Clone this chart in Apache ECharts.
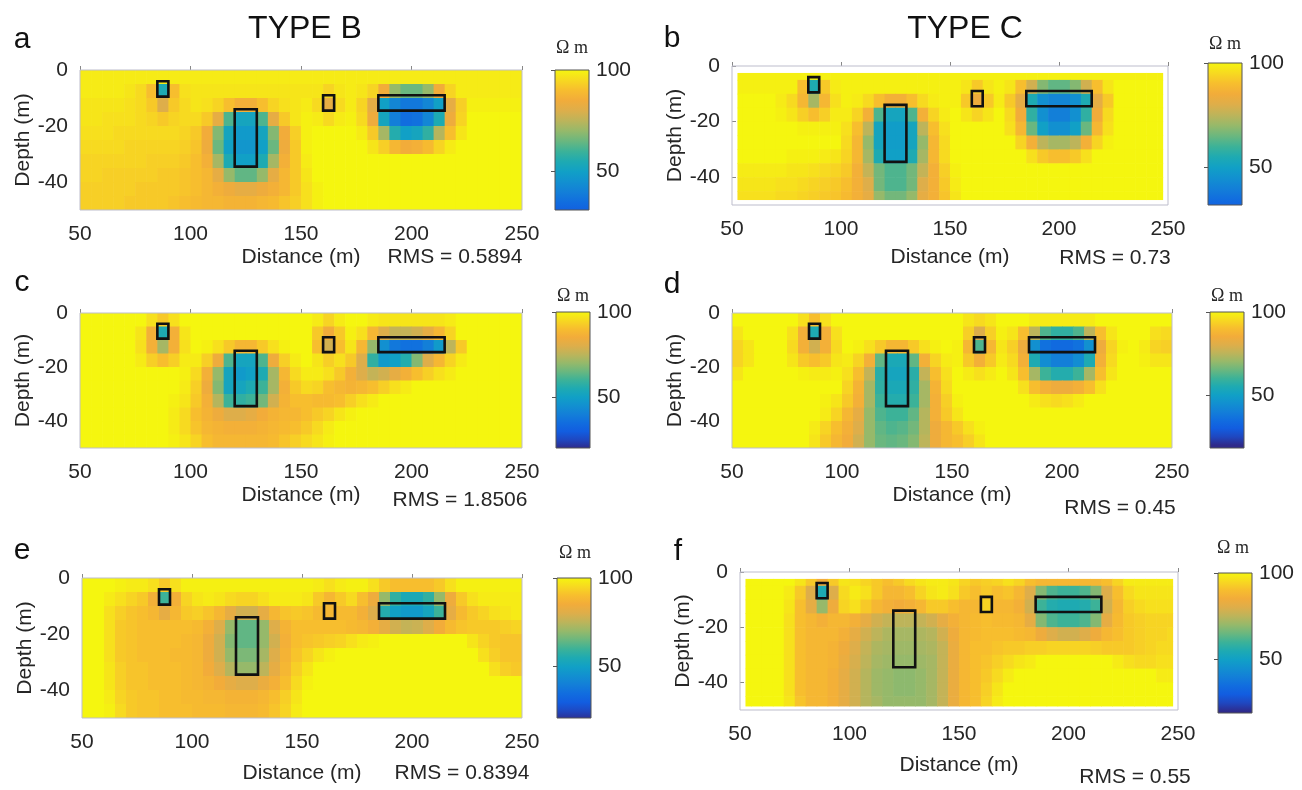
<!DOCTYPE html>
<html>
<head>
<meta charset="utf-8">
<title>Type B / Type C resistivity sections</title>
<script src="https://cdn.jsdelivr.net/npm/echarts@6.0.0/dist/echarts.min.js"></script>
<style>
  html, body { margin: 0; padding: 0; background: #fff; }
  #main { width: 1302px; height: 790px; }
</style>
</head>
<body>
<div id="main"></div>
<script>
// cell centres of the inversion grid (m)
const xCentres = [52.5, 57.5, 62.5, 67.5, 72.5, 77.5, 82.5, 87.5, 92.5, 97.5,
  102.5, 107.5, 112.5, 117.5, 122.5, 127.5, 132.5, 137.5, 142.5, 147.5,
  152.5, 157.5, 162.5, 167.5, 172.5, 177.5, 182.5, 187.5, 192.5, 197.5,
  202.5, 207.5, 212.5, 217.5, 222.5, 227.5, 232.5, 237.5, 242.5, 247.5];
const depthCentres = [-2.5, -7.5, -12.5, -17.5, -22.5, -27.5, -32.5, -37.5, -42.5, -47.5];
const depthTicks = [0, -20, -40];
const colorbarTicks = [50, 100];

// true model blocks: [x0, x1, topDepth, bottomDepth]
const blocks = [[85, 90, -4, -9.5], [120, 130, -14, -34.5], [160, 165, -9, -14.5], [185, 215, -9, -14.5]];

const panelLetters = ['a', 'b', 'c', 'd', 'e', 'f'];
const rmsValues = ['0.5894', '0.73', '1.8506', '0.45', '0.8394', '0.55'];
const colorbarMin = [31, 32, 20, 18, 21, 19];

// resistivity (ohm m), one row per depth, one column per x centre
const resA = [
  [98,98,98,98,98,98,98,98,98,98, 98,98,98,98,98,98,98,98,98,98, 98,98,98,98,98,98,98,98,98,98, 98,98,98,98,98,98,98,98,98,98],
  [98,98,98,98,97,95,90,55,90,96, 97,97,97,97,97,97,97,97,97,97, 97,97,94,97,98,97,94,85,70,65, 65,70,85,94,98,98,98,98,98,98],
  [97,97,97,97,96,95,92,80,92,95, 97,96,94,90,86,86,90,94,96,97, 98,95,82,95,98,94,82,50,42,38, 38,42,50,82,93,99,99,99,99,99],
  [97,97,96,96,96,95,94,92,94,95, 95,92,82,62,52,52,62,82,92,97, 99,98,95,98,99,95,84,52,40,35, 36,42,55,84,94,100,100,100,100,100],
  [96,96,96,95,95,95,95,95,95,94, 92,85,68,52,48,48,52,68,85,93, 99,100,100,100,100,98,92,72,56,50, 52,58,74,90,97,100,100,100,100,100],
  [95,95,95,95,94,94,94,94,94,93, 91,84,65,50,47,47,50,65,84,92, 99,100,100,100,100,100,97,93,88,85, 86,89,94,98,100,100,100,100,100,100],
  [94,94,94,94,94,94,93,93,93,92, 90,86,72,55,50,50,55,72,86,92, 98,100,100,100,100,100,100,100,100,100, 100,100,100,100,100,100,100,100,100,100],
  [94,94,93,93,93,93,93,92,92,91, 90,88,82,70,64,64,70,82,88,92, 97,100,100,100,100,100,100,100,100,100, 100,100,100,100,100,100,100,100,100,100],
  [93,93,93,93,93,92,92,92,92,91, 90,88,86,84,82,82,84,86,88,92, 96,99,100,100,100,100,100,100,100,100, 100,100,100,100,100,100,100,100,100,100],
  [93,93,93,93,92,92,92,92,91,90, 89,88,88,87,87,87,88,89,91,93, 96,99,100,100,100,100,100,100,100,100, 100,100,100,100,100,100,100,100,100,100]
];
const resB = [
  [99,99,99,99,99,99,99,99,99,99, 99,99,99,99,99,99,99,99,99,99, 99,99,99,99,99,99,99,99,99,99, 99,99,99,99,99,99,99,99,99,99],
  [99,99,99,99,99,99,90,55,92,98, 99,99,99,99,99,99,99,99,99,99, 99,97,92,97,99,97,90,78,68,64, 64,68,78,90,97,100,100,100,100,100],
  [100,100,100,100,98,95,88,72,88,96, 99,98,95,90,86,86,90,95,98,99, 99,92,84,92,98,92,82,55,45,42, 42,45,55,82,92,100,100,100,100,100],
  [100,100,100,100,99,97,93,90,93,98, 98,94,86,62,52,52,62,86,94,98, 100,97,94,97,100,95,85,58,45,40, 40,45,58,85,95,100,100,100,100,100],
  [100,100,100,100,100,100,99,99,99,99, 96,90,75,52,49,49,52,75,90,96, 100,100,100,100,100,96,88,65,50,45, 45,50,65,88,96,100,100,100,100,100],
  [100,100,100,100,100,100,100,100,100,100, 95,88,70,52,49,49,52,70,88,95, 100,100,100,100,100,100,94,86,75,72, 72,75,86,94,99,100,100,100,100,100],
  [100,100,100,100,100,99,99,99,98,97, 94,88,72,55,50,50,55,72,88,95, 100,100,100,100,100,100,100,96,92,90, 90,92,96,100,100,100,100,100,100,100],
  [98,98,98,98,98,97,97,96,95,94, 92,86,76,66,62,62,66,76,86,93, 99,100,100,100,100,100,100,100,100,100, 100,100,100,100,100,100,100,100,100,100],
  [97,97,97,97,96,96,95,94,93,92, 90,86,80,66,62,62,66,80,86,92, 98,100,100,100,100,100,100,100,100,100, 100,100,100,100,100,100,100,100,100,100],
  [96,96,96,96,95,95,94,93,92,91, 89,86,82,70,66,66,70,82,86,91, 97,100,100,100,100,100,100,100,100,100, 100,100,100,100,100,100,100,100,100,100]
];
const resC = [
  [100,100,100,100,100,100,96,92,96,100, 100,100,100,100,100,100,100,100,100,100, 100,98,94,98,100,100,98,97,97,97, 97,97,97,98,100,100,100,100,100,100],
  [100,100,100,100,100,97,86,55,86,97, 100,100,100,100,100,100,100,100,100,100, 100,92,85,92,99,96,88,80,76,76, 78,82,88,94,100,100,100,100,100,100],
  [100,100,100,100,100,96,86,72,86,96, 100,99,96,92,88,88,92,96,99,100, 100,90,78,90,97,88,70,45,38,36, 36,40,48,75,92,100,100,100,100,100],
  [100,100,100,100,100,98,93,90,93,98, 98,93,84,62,52,52,62,84,93,98, 100,97,93,96,92,80,58,48,50,56, 68,80,88,94,98,100,100,100,100,100],
  [100,100,100,100,100,100,100,100,100,99, 95,86,70,52,48,50,55,72,88,95, 98,98,96,92,86,80,76,78,82,86, 90,93,96,98,100,100,100,100,100,100],
  [100,100,100,100,100,100,100,100,100,98, 93,84,68,52,52,55,60,72,86,92, 95,94,90,88,87,88,90,93,96,98, 100,100,100,100,100,100,100,100,100,100],
  [100,100,100,100,100,100,100,100,99,97, 92,86,74,60,58,60,66,78,87,90, 90,89,89,90,93,96,98,100,100,100, 100,100,100,100,100,100,100,100,100,100],
  [100,100,100,100,100,100,100,100,98,95, 90,87,84,80,80,82,85,87,88,88, 90,92,94,97,99,100,100,100,100,100, 100,100,100,100,100,100,100,100,100,100],
  [100,100,100,100,100,100,100,100,98,95, 91,88,87,86,86,86,87,88,89,90, 92,95,98,100,100,100,100,100,100,100, 100,100,100,100,100,100,100,100,100,100],
  [100,100,100,100,100,100,100,100,99,97, 94,90,88,88,88,88,88,89,91,93, 95,97,99,100,100,100,100,100,100,100, 100,100,100,100,100,100,100,100,100,100]
];
const resD = [
  [100,100,100,100,100,100,96,90,96,100, 100,100,100,100,100,100,100,100,100,100, 100,97,95,97,100,100,100,98,98,98, 98,98,98,100,100,100,100,100,100,100],
  [97,100,100,100,100,96,86,55,86,96, 100,100,100,100,100,100,100,100,100,100, 100,93,80,93,99,97,90,75,62,58, 58,62,75,90,97,100,100,100,96,95],
  [94,97,100,100,100,95,86,78,86,95, 100,99,96,92,88,88,92,96,99,100, 99,88,62,88,97,93,84,45,36,34, 34,36,45,84,94,99,100,98,94,93],
  [94,97,100,100,100,97,92,90,92,97, 98,94,86,64,54,54,64,86,94,98, 99,92,86,92,98,95,86,55,44,40, 40,44,55,86,95,100,100,99,97,97],
  [97,100,100,100,100,100,99,98,98,99, 96,90,76,57,52,52,57,76,90,96, 100,98,96,98,100,97,90,72,60,56, 56,60,72,90,97,100,100,100,100,100],
  [100,100,100,100,100,100,100,100,100,100, 94,87,72,58,54,54,58,72,87,95, 100,100,100,100,100,100,96,90,86,84, 84,86,90,96,100,100,100,100,100,100],
  [100,100,100,100,100,100,100,100,99,97, 92,86,72,60,56,56,60,72,86,93, 99,100,100,100,100,100,100,98,96,95, 96,98,100,100,100,100,100,100,100,100],
  [100,100,100,100,100,100,100,100,98,94, 88,82,70,62,60,60,64,74,86,92, 97,100,100,100,100,100,100,100,100,100, 100,100,100,100,100,100,100,100,100,100],
  [100,100,100,100,100,100,100,98,94,90, 86,80,70,64,62,63,66,74,84,88, 92,96,99,100,100,100,100,100,100,100, 100,100,100,100,100,100,100,100,100,100],
  [100,100,100,100,100,100,100,97,92,88, 85,78,70,65,64,65,68,75,84,88, 90,93,97,100,100,100,100,100,100,100, 100,100,100,100,100,100,100,100,100,100]
];
const resE = [
  [100,100,100,99,98,98,96,92,96,99, 99,99,99,99,99,99,99,99,99,99, 99,98,96,98,99,99,96,92,90,90, 90,90,92,96,99,99,99,99,99,99],
  [100,100,98,96,94,92,86,60,86,94, 97,98,97,95,94,94,96,98,98,98, 97,92,88,92,95,90,84,70,58,54, 54,58,70,84,92,96,98,98,98,98],
  [100,100,96,93,91,90,88,82,88,92, 93,91,88,82,78,78,82,88,91,92, 91,89,88,89,89,86,80,56,50,48, 48,52,60,82,89,92,94,96,97,98],
  [100,100,96,92,91,90,90,90,90,90, 89,86,80,70,64,64,70,80,87,90, 90,90,90,90,89,88,86,82,78,76, 77,80,85,89,91,92,92,92,93,94],
  [100,100,96,92,91,90,90,90,90,89, 88,84,78,68,64,64,70,78,86,90, 91,92,93,94,96,98,99,100,100,100, 100,100,100,100,100,97,94,92,91,91],
  [100,100,96,92,91,90,90,90,89,89, 88,84,78,70,67,67,72,80,87,91, 94,97,99,100,100,100,100,100,100,100, 100,100,100,100,100,100,96,93,91,91],
  [100,100,97,93,91,91,90,90,90,89, 88,85,80,74,70,70,75,82,88,93, 97,100,100,100,100,100,100,100,100,100, 100,100,100,100,100,100,100,96,93,92],
  [100,100,97,93,91,91,90,90,90,89, 88,87,85,82,80,80,83,86,90,95, 99,100,100,100,100,100,100,100,100,100, 100,100,100,100,100,100,100,100,100,100],
  [100,100,98,94,92,91,91,90,90,89, 89,88,88,87,87,87,88,90,93,97, 100,100,100,100,100,100,100,100,100,100, 100,100,100,100,100,100,100,100,100,100],
  [100,100,99,95,92,91,91,90,90,90, 89,89,89,88,88,88,89,91,94,98, 100,100,100,100,100,100,100,100,100,100, 100,100,100,100,100,100,100,100,100,100]
];
const resF = [
  [100,100,100,100,100,97,92,85,92,97, 96,94,92,90,92,95,97,98,98,97, 94,92,93,94,96,94,90,88,88,88, 88,88,88,90,94,98,98,98,98,98],
  [100,100,100,100,98,92,80,55,80,95, 98,96,92,88,88,90,94,97,98,96, 92,90,92,90,91,88,80,68,62,60, 60,62,68,80,90,95,97,97,97,97],
  [100,100,100,100,97,90,82,70,84,94, 96,92,88,86,85,86,88,92,92,90, 88,88,94,88,88,86,78,60,56,55, 55,56,60,78,88,93,95,96,96,96],
  [100,100,100,100,96,90,88,86,88,88, 86,82,78,76,75,75,76,78,82,86, 88,89,90,89,89,88,82,68,62,60, 60,62,68,82,89,92,93,94,94,94],
  [100,100,100,100,96,90,88,88,88,86, 82,78,75,73,72,72,73,74,78,84, 88,89,90,90,90,89,88,84,80,78, 78,80,84,88,90,92,93,94,94,95],
  [100,100,100,100,96,90,88,88,87,84, 80,76,73,72,71,71,72,73,76,83, 88,90,90,91,92,92,93,93,94,94, 94,94,93,92,92,92,93,94,95,95],
  [100,100,100,100,96,90,88,88,87,83, 79,75,72,71,70,70,71,72,76,83, 88,90,91,93,95,97,98,100,100,100, 100,100,100,100,98,96,95,95,96,96],
  [100,100,100,100,96,90,88,88,86,82, 78,74,71,70,69,69,70,72,76,83, 88,90,92,95,98,100,100,100,100,100, 100,100,100,100,100,100,100,100,98,98],
  [100,100,100,100,96,90,88,88,86,82, 78,74,71,70,69,69,70,72,76,83, 88,90,93,97,100,100,100,100,100,100, 100,100,100,100,100,100,100,100,100,100],
  [100,100,100,100,97,91,88,88,86,82, 78,74,72,70,70,70,70,72,76,83, 88,90,94,98,100,100,100,100,100,100, 100,100,100,100,100,100,100,100,100,100]
];
const sections = [resA, resB, resC, resD, resE, resF];

// parula-like colour scale, one colour per 5 ohm m from 20 to 100
const paletteValues = [20, 25, 30, 35, 40, 45, 50, 55, 60, 65, 70, 75, 80, 85, 90, 95, 100];
const palette = ['#2f2a8a', '#1f47c0', '#125de0', '#116ddf', '#137fd8', '#1290d0', '#11a0c6', '#1eaab2',
  '#3cb298', '#6ab77f', '#96b96a', '#bdb45a', '#deae4a', '#f2ac3a', '#f7be2e', '#f7da20', '#f5f60f'];

// page layout: plot box [left, top, width, height], colour bar box, x-name gap, text anchors
const layout = [
  { plot: [80, 70, 442, 140], bar: [555, 70, 34, 140], gap: 37, rms: [455, 257], letter: [22, 40], ohm: [572, 48] },
  { plot: [732, 66, 436, 139], bar: [1208, 63, 34, 142], gap: 42, rms: [1115, 258], letter: [672, 39], ohm: [1225, 44] },
  { plot: [80, 313, 442, 135], bar: [556, 312, 34, 136], gap: 37, rms: [460, 500], letter: [22, 283], ohm: [573, 296] },
  { plot: [732, 313, 440, 135], bar: [1210, 312, 34, 136], gap: 37, rms: [1120, 508], letter: [672, 285], ohm: [1227, 296] },
  { plot: [82, 578, 440, 140], bar: [557, 578, 34, 140], gap: 45, rms: [462, 773], letter: [22, 551], ohm: [575, 553] },
  { plot: [740, 572, 438, 138], bar: [1218, 573, 34, 140], gap: 45, rms: [1135, 777], letter: [678, 552], ohm: [1233, 548] }
];
// extent of the imaged area in each panel [xmin, xmax, top, bottom]
const extents = [[50, 250, 0, -50], [52.5, 247.5, -2.5, -48], [50, 250, 0, -50],
  [50, 250, 0, -50], [50, 250, 0, -50], [52.5, 247.5, -2.5, -48.5]];

const SANS = '"Liberation Sans", Arial, Helvetica, sans-serif';
const TXT = '#262626';

const chart = echarts.init(document.getElementById('main'));

const plotGrids = [], barGrids = [];
const plotX = [], plotY = [], barX = [], barY = [];
const heatSeries = [], blockSeries = [], barSeries = [], graphics = [];

function txt(x, y, text, font, fill) {
  return { type: 'text', x: x, y: y,
    style: { text: text, font: font, fill: fill, align: 'center', verticalAlign: 'middle',
      textAlign: 'center', textVerticalAlign: 'middle' } };
}

sections.forEach((res, k) => {
  const L = layout[k];
  const ext = extents[k];

  plotGrids.push({ left: L.plot[0], top: L.plot[1], width: L.plot[2], height: L.plot[3],
    show: true, borderColor: '#bdbdcc', borderWidth: 1, z: 5 });
  plotX.push({
    type: 'value', gridIndex: k, min: 50, max: 250, interval: 50,
    name: 'Distance (m)', nameLocation: 'middle', nameGap: L.gap,
    nameTextStyle: { fontSize: 21, color: TXT, fontFamily: SANS },
    axisLine: { show: false },
    axisTick: { show: true, inside: true, length: 4, lineStyle: { color: '#888' } },
    axisLabel: { fontSize: 21, color: TXT, fontFamily: SANS, margin: 14 },
    splitLine: { show: false }
  });
  plotY.push({
    type: 'value', gridIndex: k, min: -50, max: 0,
    name: 'Depth (m)', nameLocation: 'middle', nameGap: 44,
    nameTextStyle: { fontSize: 21, color: TXT, fontFamily: SANS },
    axisLine: { show: false },
    axisTick: { show: true, inside: true, length: 4, customValues: depthTicks, lineStyle: { color: '#888' } },
    axisLabel: { fontSize: 21, color: TXT, fontFamily: SANS, margin: 12, customValues: depthTicks },
    splitLine: { show: false }
  });

  const cells = [];
  depthCentres.forEach((d, r) => {
    xCentres.forEach((x, c) => cells.push([x, d, res[r][c]]));
  });
  heatSeries.push({
    type: 'custom', xAxisIndex: k, yAxisIndex: k, silent: true, clip: true,
    dimensions: ['x', 'depth', 'rho'], encode: { x: 0, y: 1 },
    data: cells,
    renderItem: (params, api) => {
      const x = api.value(0), y = api.value(1);
      const p0 = api.coord([Math.max(x - 2.5, ext[0]), Math.min(y + 2.5, ext[2])]);
      const p1 = api.coord([Math.min(x + 2.5, ext[1]), Math.max(y - 2.5, ext[3])]);
      return { type: 'rect',
        shape: { x: p0[0], y: p0[1], width: p1[0] - p0[0] + 0.6, height: p1[1] - p0[1] + 0.6 },
        style: { fill: api.visual('color') } };
    }
  });

  blockSeries.push({
    type: 'custom', xAxisIndex: k, yAxisIndex: k, silent: true, z: 4,
    data: blocks, encode: { x: [0, 1], y: [2, 3] },
    renderItem: (params, api) => {
      const p0 = api.coord([api.value(0), api.value(2)]);
      const p1 = api.coord([api.value(1), api.value(3)]);
      return { type: 'rect',
        shape: { x: p0[0], y: p0[1], width: p1[0] - p0[0], height: p1[1] - p0[1] },
        style: { fill: 'none', stroke: '#111', lineWidth: 2.6 } };
    }
  });

  // colour bar
  const lo = colorbarMin[k];
  barGrids.push({ left: L.bar[0], top: L.bar[1], width: L.bar[2], height: L.bar[3] });
  barX.push({ type: 'value', gridIndex: 6 + k, min: 0, max: 1, show: false });
  barY.push({
    type: 'value', gridIndex: 6 + k, min: lo, max: 100, position: 'right',
    axisLine: { show: false },
    axisTick: { show: true, inside: true, length: 4, customValues: colorbarTicks, lineStyle: { color: '#555' } },
    axisLabel: { fontSize: 21, color: TXT, fontFamily: SANS, margin: 7, customValues: colorbarTicks },
    splitLine: { show: false }
  });
  const stops = [];
  for (let i = paletteValues.length - 1; i >= 0; i--) {
    if (paletteValues[i] >= lo) stops.push({ offset: (100 - paletteValues[i]) / (100 - lo), color: palette[i] });
  }
  if (lo > paletteValues[0]) {
    stops.push({ offset: 1, color: echarts.color.lerp((lo - paletteValues[0]) / 80, palette) });
  } else if (stops[stops.length - 1].offset < 1) {
    stops.push({ offset: 1, color: palette[0] });
  }
  barSeries.push({
    type: 'custom', xAxisIndex: 6 + k, yAxisIndex: 6 + k, silent: true,
    data: [[0, 1, lo, 100]], encode: { x: [0, 1], y: [2, 3] },
    renderItem: (params, api) => {
      const p0 = api.coord([api.value(0), api.value(3)]);
      const p1 = api.coord([api.value(1), api.value(2)]);
      return { type: 'rect',
        shape: { x: p0[0], y: p0[1], width: p1[0] - p0[0], height: p1[1] - p0[1] },
        style: { fill: new echarts.graphic.LinearGradient(0, 0, 0, 1, stops), stroke: '#555', lineWidth: 1 } };
    }
  });

  graphics.push(
    txt(L.letter[0], L.letter[1], panelLetters[k], '30px ' + SANS, '#111'),
    txt(L.rms[0], L.rms[1], 'RMS = ' + rmsValues[k], '21px ' + SANS, TXT),
    txt(L.ohm[0], L.ohm[1], 'Ω m', '18px "Liberation Serif", "Times New Roman", serif', TXT)
  );
});

graphics.push(
  txt(305, 29, 'TYPE B', '32px ' + SANS, '#111'),
  txt(965, 29, 'TYPE C', '32px ' + SANS, '#111')
);

chart.setOption({
  backgroundColor: '#fff',
  animation: false,
  grid: plotGrids.concat(barGrids),
  xAxis: plotX.concat(barX),
  yAxis: plotY.concat(barY),
  visualMap: {
    type: 'continuous', show: false, min: 20, max: 100, dimension: 2,
    seriesIndex: [0, 1, 2, 3, 4, 5],
    inRange: { color: palette }
  },
  series: heatSeries.concat(blockSeries, barSeries),
  graphic: graphics
});
</script>
</body>
</html>
